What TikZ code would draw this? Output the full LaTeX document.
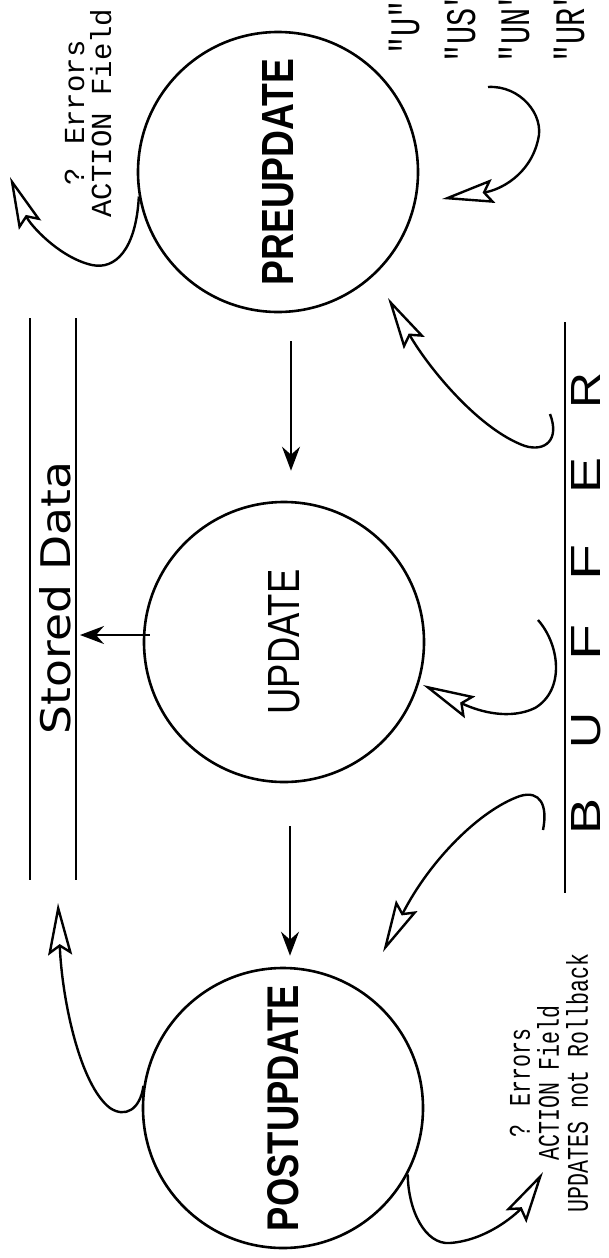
\documentclass[tikz,border=0pt]{standalone}
\usepackage{fontspec}
\setmainfont{Liberation Sans}
\newfontfamily\plotmono{Liberation Mono}
\newfontfamily\plotcond[FakeStretch=0.72]{Liberation Mono}
\newfontfamily\plotround{DejaVu Sans}
\usetikzlibrary{arrows.meta,calc}

% one unit = one dot of the drawing
\newlength\pxu
\setlength\pxu{0.5pt}
\newcommand\fitlabel[3]{\resizebox{#1\pxu}{#2\pxu}{#3}}

\tikzset{
  proc/.style={draw, circle, line width=1.3pt, minimum size=140pt, inner sep=0pt},
  flow/.style={line width=1.1pt, -{Stealth[length=12pt,width=9pt,inset=4pt]}},
  feed/.style={line width=1.2pt, -{Stealth[open,length=26pt,width=12pt,inset=4pt]}},
  vtext/.style={rotate=90, inner sep=0pt},
}

\begin{document}
\begin{tikzpicture}[x=0.5pt, y=-0.5pt]
  \useasboundingbox (0,0) rectangle (609,1258);

  % Processes
  \node[proc] (pre)  at (278,172)  {\rotatebox{90}{\fitlabel{227}{31}{\bfseries PREUPDATE}}};
  \node[proc] (upd)  at (284,642)  {\rotatebox{90}{\fitlabel{145}{31}{UPDATE}}};
  \node[proc] (post) at (283,1108) {\rotatebox{90}{\fitlabel{246}{31}{\bfseries POSTUPDATE}}};

  % Data store
  \draw[line width=0.9pt] (30,318) -- (30,880);
  \draw[line width=0.9pt] (76,318) -- (76,880);
  \node[vtext] (store) at (55,598) {\plotround\fitlabel{273}{31}{Stored Data}};

  % Buffer
  \draw[line width=1pt] (565,322) -- (565,893);
  \foreach \ch/\yy [count=\i] in {B/816,U/730,F/642,F/562,E/475,R/390}
    \node[vtext] (buf\i) at (586,\yy) {\fitlabel{36}{29}{\ch}};

  % Action codes
  \node[vtext, anchor=west, font=\plotcond\fontsize{21}{21}\selectfont] (codeU)  at (404,55) {"U"};
  \node[vtext, anchor=west, font=\plotcond\fontsize{21}{21}\selectfont] (codeUS) at (460,63) {"US"};
  \node[vtext, anchor=west, font=\plotcond\fontsize{21}{21}\selectfont] (codeUN) at (514,63) {"UN"};
  \node[vtext, anchor=west, font=\plotcond\fontsize{21}{21}\selectfont] (codeUR) at (569,63) {"UR"};

  % Error notes
  \node[vtext, align=center, font=\plotmono\fontsize{14.5}{13.5}\selectfont] (errpre) at (88,113)
    {? Errors\\ACTION Field};
  \node[vtext, align=center, font=\plotcond\fontsize{15}{14.5}\selectfont] (errpost) at (549,1083)
    {? Errors\\ACTION Field\\UPDATES not Rollback};

  % Main flow
  \coordinate (sdin) at (80,635);
  \draw[flow] ($(pre.south)+(13,28)$) -- ($(upd.north)+(7,-30)$);
  \draw[flow] ($(upd.south)+(6,43)$) -- ($(post.north)+(7,-11)$);
  \draw[flow] ($(upd.west)+(7,-7)$) -- (sdin);

  % Feedback arrows
  \coordinate (errA)  at (10,177);
  \coordinate (codeS) at (488,87);
  \coordinate (preA)  at (442,199);
  \coordinate (bufR)  at (550,414);
  \coordinate (preB)  at (388,298);
  \coordinate (bufF)  at (538,620);
  \coordinate (updA)  at (423,685);
  \coordinate (bufB)  at (543,830);
  \coordinate (postA) at (383,952);
  \coordinate (sdA)   at (58,903);
  \coordinate (errB)  at (543,1172);

  \draw[feed] (pre.190) .. controls (136,250) and (115,270) .. (92,265)
    .. controls (60,258) and (30,225) .. (errA);
  \draw[feed] (codeS) .. controls (520,85) and (545,115) .. (538,140)
    .. controls (530,175) and (500,190) .. (preA);
  \draw[feed] (bufR) .. controls (560,440) and (545,452) .. (525,446)
    .. controls (480,430) and (430,370) .. (preB);
  \draw[feed] (bufF) .. controls (560,645) and (565,690) .. (535,708)
    .. controls (510,720) and (480,712) .. (updA);
  \draw[feed] (bufB) .. controls (548,805) and (540,790) .. (520,796)
    .. controls (480,810) and (430,860) .. (postA);
  \draw[feed] (post.171) .. controls (140,1110) and (125,1118) .. (110,1108)
    .. controls (80,1085) and (62,1000) .. (sdA);
  \draw[feed] (post.-28) .. controls (408,1210) and (425,1245) .. (450,1243)
    .. controls (490,1240) and (520,1210) .. (errB);
\end{tikzpicture}
\end{document}
